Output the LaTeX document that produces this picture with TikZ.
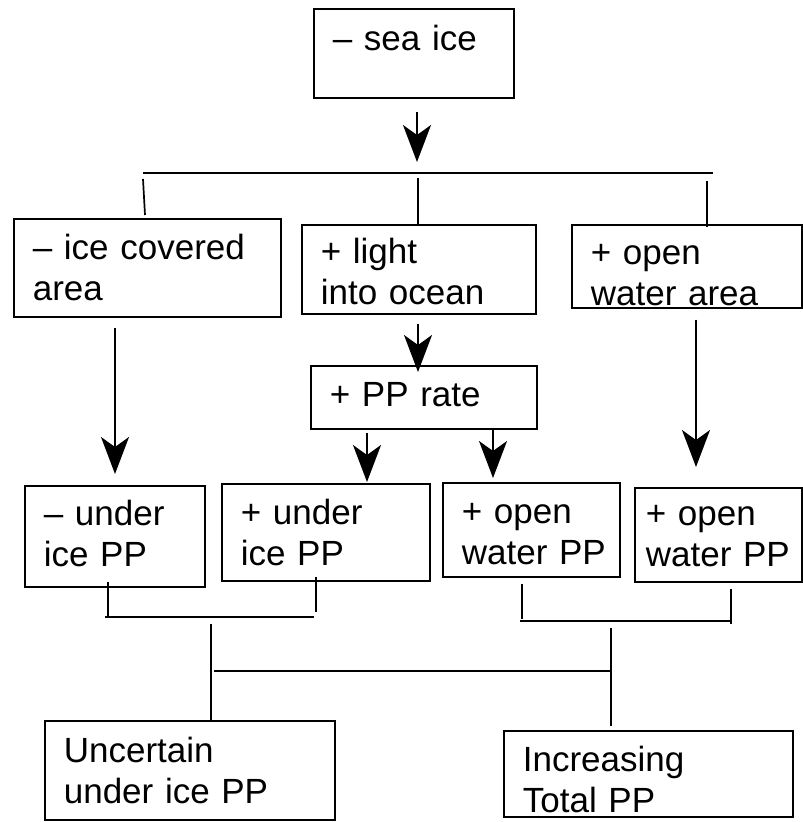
\documentclass[tikz,border=0pt]{standalone}
\usepackage{fontspec}
\setmainfont{Liberation Sans}
\usetikzlibrary{arrows.meta,calc}
\definecolor{IceInk}{HTML}{000000}
\tikzset{
  icebox/.style={draw=IceInk,line width=1.7pt,anchor=north west,align=left,
    inner xsep=19pt,inner ysep=0pt,text height=25pt,
    font=\fontsize{35}{41}\selectfont},
  icelink/.style={IceInk,line width=1.7pt},
  icearrow/.style={icelink,-{Stealth[length=37pt,width=28pt,inset=10pt]}},
}

\begin{document}
\begin{tikzpicture}[x=1pt,y=-1pt]
        \useasboundingbox (0,0) rectangle (803,822);

        % sea ice and the three direct effects
        \node[icebox,minimum width=200pt,minimum height=89pt,text width=162pt,text depth=30pt]
          (seaice) at (313,8) {– sea ice};
        \node[icebox,minimum width=267pt,minimum height=98pt,text width=229pt,text depth=41pt]
          (icecov) at (13,218) {– ice covered\\area};
        \node[icebox,minimum width=234pt,minimum height=89pt,text width=196pt,text depth=36pt]
          (light) at (301,224) {+ light\\into ocean};
        \node[icebox,minimum width=230pt,minimum height=83pt,text width=192pt,text depth=28pt]
          (openarea) at (571,224) {+ open\\water area};

        \coordinate (topbarL) at (143,173);
        \coordinate (topbarR) at (713,173);
        \coordinate (seaout) at ($(seaice.south west)+(104,13)$);
        \draw[icearrow,shorten >=11pt] (seaout) -- (seaout |- topbarL);
        \draw[icelink] (topbarL) -- (topbarR);
        \draw[icelink] ($(icecov.north west)+(130,-39)$) -- ($(icecov.north west)+(132,-3)$);
        \draw[icelink] ($(light.north west)+(117,-46)$) -- ($(light.north west)+(117,0)$);
        \draw[icelink] ($(openarea.north west)+(136,-43)$) -- ($(openarea.north west)+(136,3)$);

        % production rate and the four PP boxes
        \node[icebox,minimum width=226pt,minimum height=63pt,text width=188pt,text depth=6pt]
          (pprate) at (310,365) {+ PP rate};
        \node[icebox,minimum width=180pt,minimum height=101pt,text width=142pt,text depth=46pt]
          (underm) at (24,485) {– under\\ice PP};
        \node[icebox,minimum width=208pt,minimum height=97pt,text width=170pt,text depth=40pt]
          (underp) at (221,483) {+ under\\ice PP};
        \node[icebox,minimum width=177pt,minimum height=94pt,text width=139pt,text depth=37pt]
          (openpp) at (442,482) {+ open\\water~PP};
        \node[icebox,inner xsep=11pt,minimum width=167pt,minimum height=94pt,text width=145pt,text depth=43pt]
          (openppr) at (634,487) {+ open\\water~PP};

        \draw[icearrow] ($(icecov.south west)+(102,10)$) -- ($(underm.north west)+(91,-11)$);
        \draw[icearrow] ($(light.south west)+(117,9)$) -- ($(pprate.north west)+(108,7)$);
        \draw[icearrow] ($(pprate.south west)+(57,3)$) -- ($(underp.north west)+(146,-1)$);
        \draw[icearrow] ($(pprate.south west)+(183,-2)$) -- ($(openpp.north west)+(51,-4)$);
        \draw[icearrow] ($(openarea.south west)+(125,11)$) -- ($(openppr.north west)+(62,-20)$);

        % outcomes
        \node[icebox,minimum width=290pt,minimum height=99pt,text width=252pt,text depth=40pt]
          (uncertain) at (44,720) {Uncertain\\under ice PP};
        \node[icebox,minimum width=289pt,minimum height=86pt,text width=251pt,text depth=29pt]
          (increasing) at (503,730) {Increasing\\Total PP};

        \coordinate (pairL1) at (105,617);
        \coordinate (pairL2) at (314,617);
        \coordinate (pairR1) at (520,621);
        \coordinate (pairR2) at (730,621);
        \coordinate (sumL) at (214,671);
        \coordinate (sumR) at (611,671);
        \draw[icelink] ($(underm.south west)+(84,-6)$) -- ($(underm.south west)+(84,29)$);
        \draw[icelink] ($(underp.south west)+(95,-5)$) -- ($(underp.south west)+(95,30)$);
        \draw[icelink] (pairL1) -- (pairL2);
        \draw[icelink] ($(openpp.south west)+(80,6)$) -- ($(openpp.south west)+(80,41)$);
        \draw[icelink] ($(openppr.south west)+(97,6)$) -- ($(openppr.south west)+(97,41)$);
        \draw[icelink] (pairR1) -- (pairR2);
        \draw[icelink] (sumL) -- (sumR);
        \draw[icelink] ($(uncertain.north west)+(167,-96)$) -- ($(uncertain.north west)+(167,2)$);
        \draw[icelink] ($(increasing.north west)+(108,-102)$) -- ($(increasing.north west)+(108,-4)$);
      \end{tikzpicture}
\end{document}
